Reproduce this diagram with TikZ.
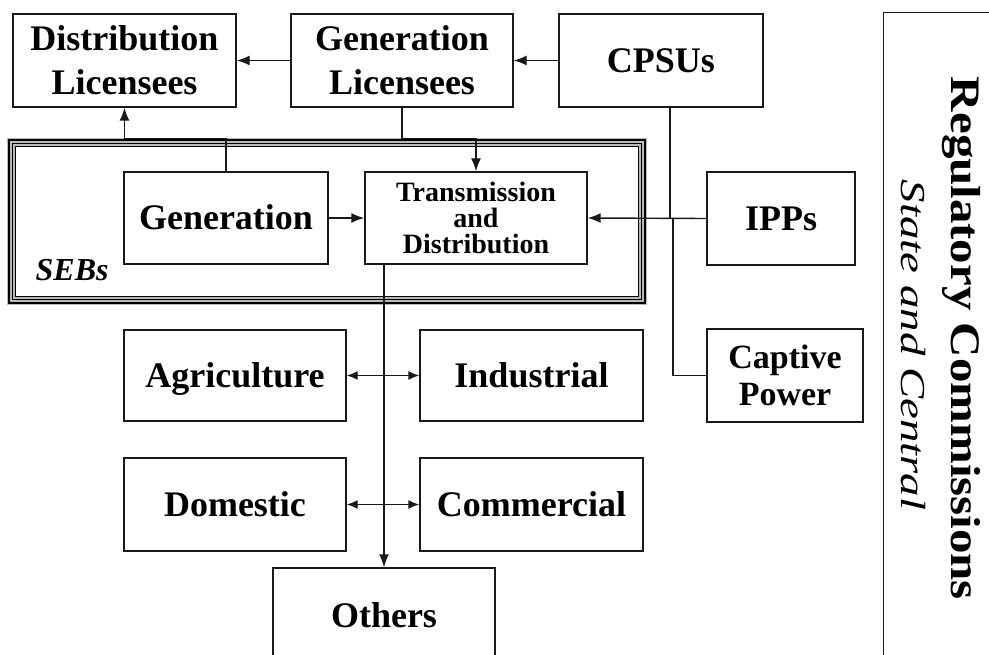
\documentclass[tikz,border=0pt]{standalone}
\usepackage{fontspec}
\usepackage{graphicx}
\setmainfont{Liberation Serif}
\usetikzlibrary{arrows.meta,calc}
\begin{document}
\begin{tikzpicture}[x=1pt,y=-1pt,
  line width=1.4pt,
  box/.style={draw=black!90, line width=1.4pt, inner sep=0pt, align=center,
    font=\fontsize{36}{44}\selectfont\bfseries},
  single/.style={text height=24pt, text depth=0pt},
  arr/.style={draw=black!90, -{Latex[length=13pt,width=10pt]}},
  darr/.style={draw=black!90, {Latex[length=11pt,width=9pt]}-{Latex[length=11pt,width=9pt]}},
  plain/.style={draw=black!90}]
\useasboundingbox (0,0) rectangle (989,655);
\clip (0,0) rectangle (989,655);

% licensees and central units
\node[box, minimum width=223pt, minimum height=93pt] (dl) at (124.5,60.5) {Distribution\\Licensees};
\node[box, minimum width=222pt, minimum height=93pt] (gl) at (402,60.5) {Generation\\Licensees};
\node[box, single, minimum width=204pt, minimum height=93pt] (cp) at (661,60.5) {CPSUs};

% state electricity boards, framed by a triple border
\node[minimum width=638pt, minimum height=165pt, inner sep=0pt] (seb) at (327,221.5) {};
\draw[gray!55, line width=9pt] ([shift={(4.5,4.5)}]seb.north west) rectangle ([shift={(-4.5,-4.5)}]seb.south east);
\draw[black, line width=2.2pt] ([shift={(1.6,1.6)}]seb.north west) rectangle ([shift={(-1.6,-1.6)}]seb.south east);
\draw[black, line width=1.4pt] ([shift={(5.2,5.2)}]seb.north west) rectangle ([shift={(-5.2,-5.2)}]seb.south east);
\draw[black, line width=1.2pt] ([shift={(8,8)}]seb.north west) rectangle ([shift={(-8,-8)}]seb.south east);
\node[anchor=base west, inner sep=0pt, font=\fontsize{32}{32}\selectfont\bfseries\itshape] (sebl) at (35,281) {SEBs};

\node[box, single, minimum width=204pt, minimum height=92pt] (gen) at (226,218) {Generation};
\node[box, minimum width=222pt, minimum height=92pt,
  font=\fontsize{28}{26}\selectfont\bfseries] (td) at (476,218) {Transmission\\and\\Distribution};
\node[box, single, minimum width=148pt, minimum height=93pt] (ipp) at (781,218.5) {IPPs};
\node[box, minimum width=156pt, minimum height=93pt,
  font=\fontsize{34}{37}\selectfont\bfseries] (cap) at (785,375.5) {Captive\\Power};

% consumer categories
\node[box, single, minimum width=222pt, minimum height=91pt] (agr) at (235,375.5) {Agriculture};
\node[box, single, minimum width=223pt, minimum height=91pt] (ind) at (531.5,375.5) {Industrial};
\node[box, single, minimum width=222pt, minimum height=93pt] (dom) at (235,504.5) {Domestic};
\node[box, single, minimum width=223pt, minimum height=93pt] (com) at (531.5,504.5) {Commercial};
\node[box, single, minimum width=222pt, minimum height=94pt] (oth) at (384,615) {Others};

% regulatory commissions panel
\node[box, minimum width=160pt, minimum height=700pt, anchor=north west] (regbox) at (883,12) {};
\node[rotate=-90, anchor=base, inner sep=0pt] (reg) at (951,338.5)
  {\resizebox{523pt}{\height}{\fontsize{42}{42}\selectfont\bfseries Regulatory Commissions}};
\node[rotate=-90, anchor=base, inner sep=0pt] (sc) at (901,345)
  {\resizebox{330pt}{\height}{\fontsize{35}{35}\selectfont\itshape State and Central}};

% junctions on the supply lines
\coordinate (cpj) at (670,218);
\coordinate (capj) at (673,218);

% connectors
\draw[arr] (gl.west) -- (dl.east);
\draw[arr] (cp.west) -- (gl.east);
\draw[arr] (gl.south) -- (gl.south |- seb.north) -| (td.north);
\draw[arr] (gen.north) -- (gen.north |- seb.north) -| (dl.south);
\draw[arr] (gen.east) -- (td.west);
\draw[arr] (ipp.west) -- (td.east);
\draw[plain] (cp.south -| cpj) -- (cpj);
\draw[plain] (cap.west) -| (capj);
\draw[arr] (td.south -| oth.north) -- (oth.north);
\draw[darr] (agr.east) -- (ind.west);
\draw[darr] (dom.east) -- (com.west);
\end{tikzpicture}
\end{document}
